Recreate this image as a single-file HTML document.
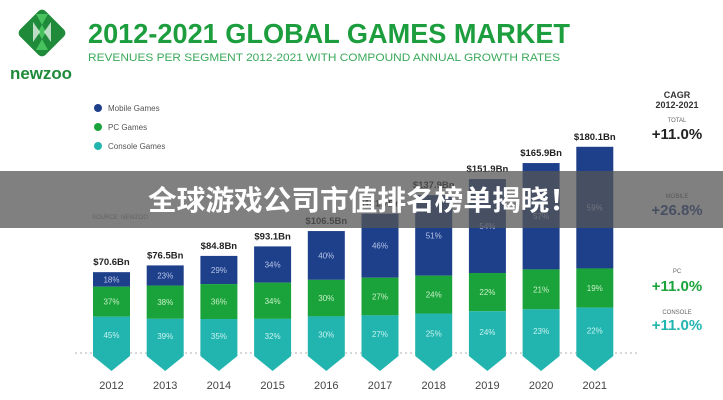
<!DOCTYPE html>
<html><head><meta charset="utf-8"><style>
html,body{margin:0;padding:0;background:#fff;}
svg{display:block;font-family:"Liberation Sans","Noto Sans CJK SC",sans-serif;}
</style></head><body>
<svg width="723" height="400" viewBox="0 0 723 400" xmlns="http://www.w3.org/2000/svg">
<rect width="723" height="400" fill="#fff"/>
<g transform="translate(42,33) rotate(45)">
<rect x="-18" y="-18" width="36" height="36" rx="5" fill="#1e8a3a"/>
</g>
<path d="M36 14 L48 14 L38 32 L48 50 L36 50 L46 32 Z" fill="#4cc864" opacity="0.9"/>
<path d="M33 22 L40 32 L33 42 Z M51 22 L44 32 L51 42 Z" fill="#fff" opacity="0.7"/>
<text x="10" y="79" font-size="17" font-weight="bold" fill="#1e8a3a" textLength="62" lengthAdjust="spacingAndGlyphs">newzoo</text>
<text x="88" y="43" font-size="28" font-weight="bold" fill="#1d9e3e" textLength="482" lengthAdjust="spacingAndGlyphs">2012-2021 GLOBAL GAMES MARKET</text>
<text x="88" y="61" font-size="11" fill="#3aa95a" textLength="472" lengthAdjust="spacingAndGlyphs">REVENUES PER SEGMENT 2012-2021 WITH COMPOUND ANNUAL GROWTH RATES</text>
<circle cx="98" cy="108" r="4" fill="#1e3f8a"/><text x="108" y="111" font-size="8" fill="#555">Mobile Games</text>
<circle cx="98" cy="127" r="4" fill="#1aa33a"/><text x="108" y="130" font-size="8" fill="#555">PC Games</text>
<circle cx="98" cy="146" r="4" fill="#22b5b0"/><text x="108" y="149" font-size="8" fill="#555">Console Games</text>
<text x="92" y="219" font-size="6" fill="#888">SOURCE: NEWZOO</text>
<line x1="75" y1="353" x2="640" y2="353" stroke="#ccc" stroke-width="1.5" stroke-dasharray="2,3"/>
<g id="bars" font-size="8" fill="#fff" text-anchor="middle"></g>
<g text-anchor="middle" font-weight="bold">
<text x="677" y="98" font-size="9" fill="#333">CAGR</text>
<text x="677" y="108" font-size="9" fill="#333">2012-2021</text>
<text x="677" y="122" font-size="6" font-weight="normal" fill="#666">TOTAL</text>
<text x="677" y="139" font-size="15" fill="#222">+11.0%</text>
<text x="677" y="198" font-size="6" font-weight="normal" fill="#666">MOBILE</text>
<text x="677" y="215" font-size="15" fill="#1e3f8a">+26.8%</text>
<text x="677" y="273" font-size="6" font-weight="normal" fill="#666">PC</text>
<text x="677" y="291" font-size="15" fill="#1aa33a">+11.0%</text>
<text x="677" y="314" font-size="6" font-weight="normal" fill="#666">CONSOLE</text>
<text x="677" y="330" font-size="15" fill="#22b5b0">+11.0%</text>
</g>
<g id="ban">
<rect x="0" y="171" width="723" height="57" fill="rgb(85,85,85)" opacity="0.75"/>
<text x="148" y="210" font-size="28" font-weight="bold" fill="#fff" textLength="430" lengthAdjust="spacingAndGlyphs">全球游戏公司市值排名榜单揭晓！</text>
</g>
</svg>
<script>
(function(){
var tot=[70.6,76.5,84.8,93.1,106.5,121.7,137.9,151.9,165.9,180.1];
var mob=[18,23,29,34,40,46,51,54,57,59],pc=[37,38,36,34,30,27,24,22,21,19],con=[45,39,35,32,30,27,25,24,23,22];
var g=document.getElementById('bars'),h='';
var base=353,k=1.145,lbl=['$70.6Bn','$76.5Bn','$84.8Bn','$93.1Bn','$106.5Bn','$121.7Bn','$137.9Bn','$151.9Bn','$165.9Bn','$180.1Bn'];
for(var i=0;i<10;i++){
 var x=93+i*53.7,w=37,H=tot[i]*k,ty=base-H;
 var yc=base-con[i]/100*H, yp=yc-pc[i]/100*H;
 h+='<rect x="'+x+'" y="'+ty+'" width="'+w+'" height="'+(yp-ty)+'" fill="#1e3f8a"/>';
 h+='<rect x="'+x+'" y="'+yp+'" width="'+w+'" height="'+(yc-yp)+'" fill="#1aa33a"/>';
 h+='<rect x="'+x+'" y="'+yc+'" width="'+w+'" height="'+(base-yc)+'" fill="#22b5b0"/>';
 h+='<path d="M'+x+' '+(base-0.5)+' L'+(x+w)+' '+(base-0.5)+' L'+(x+w)+' '+(base+3)+' L'+(x+w/2)+' 371 L'+x+' '+(base+3)+' Z" fill="#22b5b0"/>';
 h+='<text x="'+(x+w/2)+'" y="'+((ty+yp)/2+3)+'" fill="#b8c6e8">'+mob[i]+'%</text>';
 h+='<text x="'+(x+w/2)+'" y="'+((yp+yc)/2+3)+'" fill="#c8f0c8">'+pc[i]+'%</text>';
 h+='<text x="'+(x+w/2)+'" y="'+((yc+base)/2+3)+'" fill="#c8f2f0">'+con[i]+'%</text>';
 h+='<text x="'+(x+w/2)+'" y="'+(ty-7)+'" fill="#222" font-size="9.5" font-weight="bold">'+lbl[i]+'</text>';
 h+='<text x="'+(x+w/2)+'" y="389" fill="#444" font-size="11">'+(2012+i)+'</text>';
}
g.innerHTML=h;
})();
</script>
</body></html>
